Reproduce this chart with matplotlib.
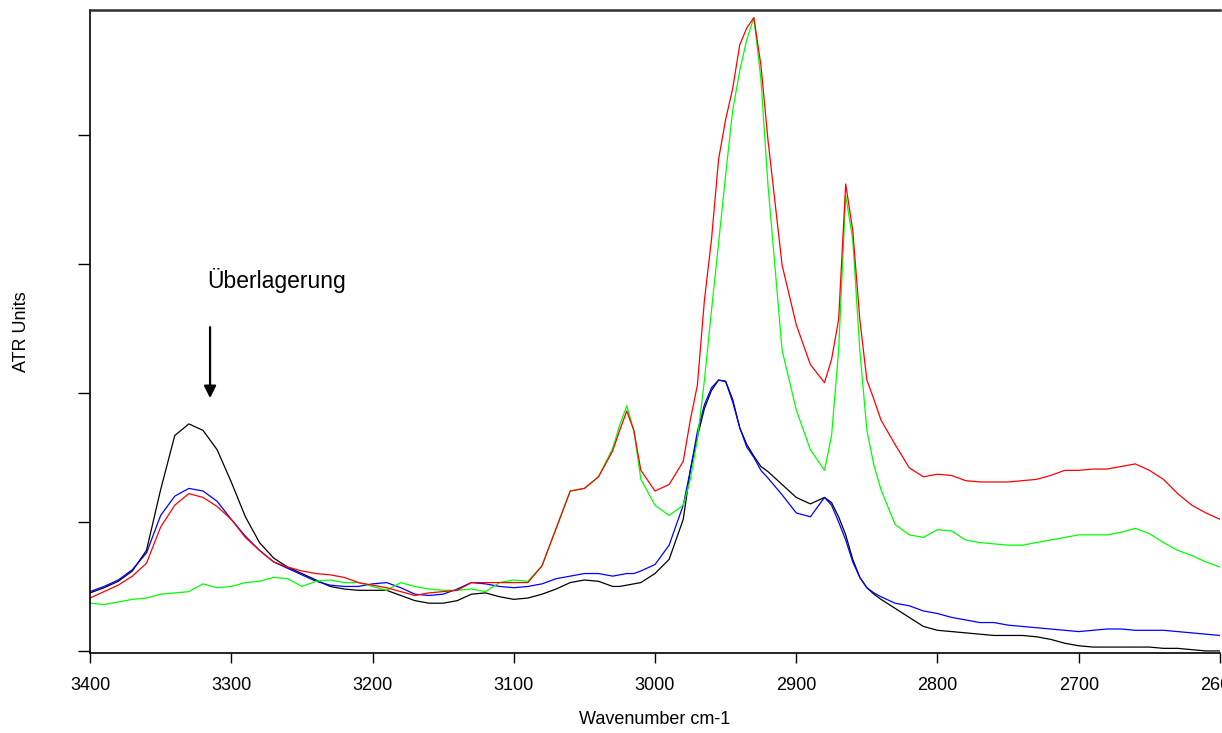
import matplotlib
matplotlib.use("Agg")
import matplotlib.pyplot as plt

wavenumber = [3400, 3390, 3380, 3370, 3360, 3350, 3340, 3330, 3320, 3310,
              3300, 3290, 3280, 3270, 3260, 3250, 3240, 3230, 3220, 3210,
              3200, 3190, 3180, 3170, 3160, 3150, 3140, 3130, 3120, 3110,
              3100, 3090, 3080, 3070, 3060, 3050, 3040, 3030, 3025, 3020,
              3015, 3010, 3000, 2990, 2980, 2975, 2970, 2965, 2960, 2955,
              2950, 2945, 2940, 2935, 2930, 2925, 2920, 2910, 2900, 2890,
              2880, 2875, 2870, 2865, 2860, 2855, 2850, 2845, 2840, 2830,
              2820, 2810, 2800, 2790, 2780, 2770, 2760, 2750, 2740, 2730,
              2720, 2710, 2700, 2690, 2680, 2670, 2660, 2650, 2640, 2630,
              2620, 2610, 2600]

black = [0.045, 0.049, 0.054, 0.062, 0.078, 0.125, 0.167, 0.176, 0.171, 0.156,
         0.131, 0.104, 0.084, 0.072, 0.065, 0.060, 0.055, 0.050, 0.048, 0.047,
         0.047, 0.047, 0.043, 0.039, 0.037, 0.037, 0.039, 0.044, 0.045, 0.042,
         0.040, 0.041, 0.044, 0.048, 0.053, 0.055, 0.054, 0.050, 0.050, 0.051,
         0.052, 0.053, 0.060, 0.071, 0.102, 0.140, 0.166, 0.188, 0.202, 0.210,
         0.209, 0.195, 0.173, 0.160, 0.151, 0.143, 0.139, 0.129, 0.119, 0.114,
         0.119, 0.115, 0.104, 0.090, 0.071, 0.057, 0.049, 0.044, 0.040, 0.033,
         0.026, 0.019, 0.016, 0.015, 0.014, 0.013, 0.012, 0.012, 0.012, 0.011,
         0.009, 0.006, 0.004, 0.003, 0.003, 0.003, 0.003, 0.003, 0.002, 0.002,
         0.001, 0.000, 0.000]

blue = [0.046, 0.050, 0.055, 0.063, 0.076, 0.105, 0.120, 0.126, 0.124, 0.116,
        0.102, 0.089, 0.078, 0.069, 0.064, 0.059, 0.054, 0.051, 0.050, 0.050,
        0.052, 0.053, 0.049, 0.044, 0.043, 0.044, 0.048, 0.053, 0.052, 0.050,
        0.049, 0.050, 0.052, 0.056, 0.058, 0.060, 0.060, 0.058, 0.059, 0.060,
        0.060, 0.062, 0.067, 0.082, 0.113, 0.140, 0.170, 0.191, 0.204, 0.210,
        0.209, 0.193, 0.173, 0.158, 0.150, 0.140, 0.134, 0.121, 0.107, 0.104,
        0.119, 0.113, 0.100, 0.086, 0.069, 0.057, 0.049, 0.045, 0.042, 0.037,
        0.035, 0.031, 0.029, 0.026, 0.024, 0.022, 0.022, 0.020, 0.019, 0.018,
        0.017, 0.016, 0.015, 0.016, 0.017, 0.017, 0.016, 0.016, 0.016, 0.015,
        0.014, 0.013, 0.012]

red = [0.041, 0.046, 0.051, 0.058, 0.068, 0.096, 0.113, 0.122, 0.119, 0.112,
       0.102, 0.088, 0.078, 0.069, 0.065, 0.062, 0.060, 0.059, 0.057, 0.053,
       0.051, 0.049, 0.046, 0.043, 0.045, 0.046, 0.047, 0.053, 0.053, 0.053,
       0.053, 0.053, 0.066, 0.095, 0.124, 0.126, 0.135, 0.155, 0.171, 0.186,
       0.171, 0.140, 0.124, 0.129, 0.147, 0.179, 0.206, 0.272, 0.319, 0.381,
       0.412, 0.436, 0.470, 0.483, 0.491, 0.454, 0.396, 0.299, 0.253, 0.222,
       0.208, 0.226, 0.257, 0.362, 0.326, 0.257, 0.210, 0.195, 0.179, 0.160,
       0.142, 0.135, 0.137, 0.136, 0.132, 0.131, 0.131, 0.131, 0.132, 0.133,
       0.136, 0.140, 0.140, 0.141, 0.141, 0.143, 0.145, 0.140, 0.133, 0.122,
       0.113, 0.107, 0.102]

green = [0.037, 0.036, 0.038, 0.040, 0.041, 0.044, 0.045, 0.046, 0.052, 0.049,
         0.050, 0.053, 0.054, 0.057, 0.056, 0.050, 0.054, 0.055, 0.053, 0.053,
         0.050, 0.047, 0.053, 0.050, 0.048, 0.047, 0.047, 0.048, 0.046, 0.053,
         0.055, 0.054, 0.066, 0.095, 0.124, 0.126, 0.135, 0.157, 0.175, 0.190,
         0.171, 0.133, 0.113, 0.105, 0.113, 0.133, 0.164, 0.210, 0.264, 0.316,
         0.369, 0.419, 0.450, 0.474, 0.491, 0.443, 0.361, 0.233, 0.187, 0.156,
         0.140, 0.167, 0.233, 0.353, 0.319, 0.233, 0.171, 0.144, 0.125, 0.098,
         0.090, 0.088, 0.094, 0.093, 0.086, 0.084, 0.083, 0.082, 0.082, 0.084,
         0.086, 0.088, 0.090, 0.090, 0.090, 0.092, 0.095, 0.091, 0.084, 0.078,
         0.074, 0.069, 0.065]

x_ticks = [3400, 3300, 3200, 3100, 3000, 2900, 2800, 2700, 2600]
y_ticks = [0.0, 0.1, 0.2, 0.3, 0.4]

plt.rcParams['font.family'] = ['Liberation Sans', 'DejaVu Sans']

fig = plt.figure(figsize=(12.22, 7.33), dpi=100)
ax = fig.add_axes([90/1222, 80/733, 1130/1222, 643/733])

ax.plot(wavenumber, black, color='black', lw=0.9)
ax.plot(wavenumber, blue, color='#0000ff', lw=0.9)
ax.plot(wavenumber, green, color='#00ff00', lw=0.9)
ax.plot(wavenumber, red, color='#ff0000', lw=0.9)

ax.set_xlim(3400, 2600)
ax.set_ylim(-0.0016, 0.4969)
ax.set_xticks(x_ticks)
ax.set_xticklabels([str(t) for t in x_ticks], fontsize=13)
ax.set_yticks(y_ticks)
ax.set_yticklabels([])
ax.tick_params(axis='x', direction='out', length=7, width=1.0, pad=10, colors='black')
ax.tick_params(axis='y', direction='out', length=8.5, width=1.0)

ax.spines['right'].set_visible(False)
for s in ['top', 'left', 'bottom']:
    ax.spines[s].set_linewidth(1.2)
ax.spines['top'].set_color('#303030')
ax.spines['top'].set_linewidth(1.8)

ax.set_xlabel('Wavenumber cm-1', fontsize=13)
ax.xaxis.set_label_coords(0.5, -0.09)
ax.set_ylabel('ATR Units', fontsize=13)
ax.yaxis.set_label_coords(-0.053, 0.5)

ax.text(3317, 0.287, 'Überlagerung', fontsize=16.5, ha='left', va='center')
ax.annotate('', xy=(3315, 0.196), xytext=(3315, 0.251),
            arrowprops=dict(arrowstyle='-|>', color='black', lw=1.6,
                            mutation_scale=18, shrinkA=0, shrinkB=0))

fig.savefig('out.png', dpi=100)
